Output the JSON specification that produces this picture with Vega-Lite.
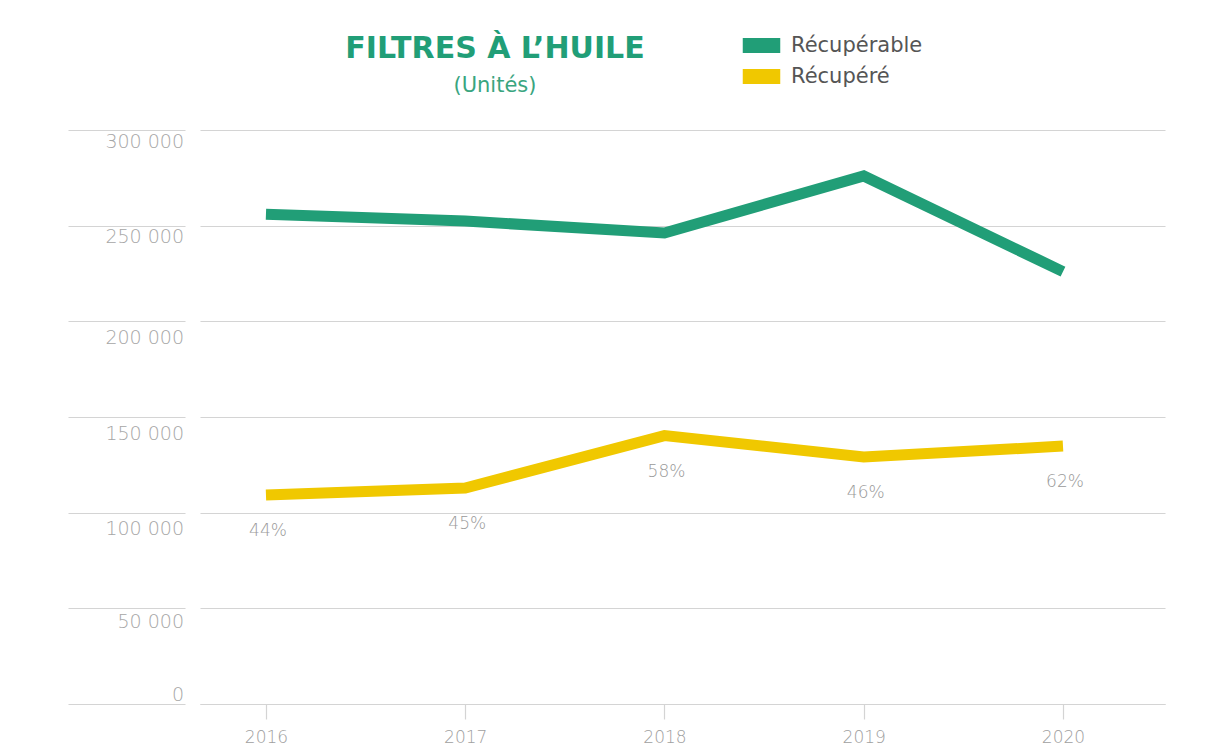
{
  "$schema": "https://vega.github.io/schema/vega-lite/v6.json",
  "width": 965,
  "height": 574,
  "autosize": {"type": "none"},
  "padding": {"left": 200, "top": 130, "right": 62, "bottom": 46},
  "background": "white",
  "config": {
    "view": {"stroke": null},
    "font": "DejaVu Sans"
  },
  "title": {
    "text": "FILTRES À L’HUILE",
    "subtitle": "(Unités)",
    "anchor": "middle",
    "frame": "group",
    "dx": -187.5,
    "dy": 61,
    "offset": 0,
    "font": "DejaVu Sans",
    "fontSize": 30,
    "fontWeight": "bold",
    "color": "#219e77",
    "subtitleFont": "DejaVu Sans",
    "subtitleFontSize": 21,
    "subtitleColor": "#3aa57f",
    "subtitlePadding": 11
  },
  "data": {
    "values": [
      {"annee": 2016, "serie": "Récupérable", "valeur": 256000, "taux": null},
      {"annee": 2017, "serie": "Récupérable", "valeur": 252400, "taux": null},
      {"annee": 2018, "serie": "Récupérable", "valeur": 246200, "taux": null},
      {"annee": 2019, "serie": "Récupérable", "valeur": 276000, "taux": null},
      {"annee": 2020, "serie": "Récupérable", "valeur": 226000, "taux": null},
      {"annee": 2016, "serie": "Récupéré", "valeur": 109200, "taux": "44%"},
      {"annee": 2017, "serie": "Récupéré", "valeur": 112900, "taux": "45%"},
      {"annee": 2018, "serie": "Récupéré", "valeur": 140300, "taux": "58%"},
      {"annee": 2019, "serie": "Récupéré", "valeur": 129100, "taux": "46%"},
      {"annee": 2020, "serie": "Récupéré", "valeur": 134800, "taux": "62%"}
    ]
  },
  "encoding": {
    "x": {
      "field": "annee",
      "type": "quantitative",
      "scale": {"domain": [2015.669, 2020.512], "nice": false, "zero": false},
      "axis": {
        "values": [2016, 2017, 2018, 2019, 2020],
        "format": "d",
        "title": null,
        "grid": false,
        "domain": true,
        "domainColor": "#d4d4d4",
        "domainWidth": 1.2,
        "ticks": true,
        "tickSize": 15,
        "tickColor": "#d4d4d4",
        "tickWidth": 1.2,
        "labelPadding": 10,
        "labelFont": "DejaVu Sans",
        "labelFontSize": 17,
        "labelFontWeight": 200,
        "labelColor": "#a0a0a0"
      }
    },
    "y": {
      "field": "valeur",
      "type": "quantitative",
      "scale": {"domain": [0, 300000], "nice": false},
      "axis": {
        "values": [0, 50000, 100000, 150000, 200000, 250000, 300000],
        "title": null,
        "domain": false,
        "grid": true,
        "gridColor": "#d4d4d4",
        "gridWidth": 1.2,
        "ticks": true,
        "tickSize": 117,
        "tickColor": "#d4d4d4",
        "tickWidth": 1.2,
        "offset": 15,
        "labelAlign": "right",
        "labelBaseline": "middle",
        "labelPadding": -115.5,
        "labelOffset": {"expr": "datum.value == 0 ? -9.5 : (datum.value >= 250000 ? 11 : (datum.value == 50000 ? 13.5 : 16))"},
        "labelFont": "DejaVu Sans",
        "labelFontSize": 19,
        "labelFontWeight": 200,
        "labelColor": "#a6a6a6",
        "labelExpr": "replace(format(datum.value, ','), ',', ' ')"
      }
    }
  },
  "layer": [
    {
      "mark": {"type": "line", "strokeWidth": 11, "strokeCap": "butt", "strokeJoin": "miter"},
      "encoding": {
        "color": {
          "field": "serie",
          "type": "nominal",
          "scale": {"domain": ["Récupérable", "Récupéré"], "range": ["#219e77", "#f0c800"]},
          "legend": {
            "title": null,
            "orient": "none",
            "legendX": 551,
            "legendY": -95,
            "symbolType": "M-2.5,-1H2.5V1H-2.5Z",
            "symbolSize": 225,
            "symbolStrokeWidth": 0,
            "rowPadding": 9,
            "labelOffset": 19,
            "labelFont": "DejaVu Sans",
            "labelFontSize": 21,
            "labelColor": "#555555",
            "encode": {
              "symbols": {
                "update": {
                  "fill": {"scale": "color", "field": "value"},
                  "stroke": {"value": "transparent"},
                  "strokeWidth": {"value": 0},
                  "opacity": {"value": 1}
                }
              }
            }
          }
        }
      }
    },
    {
      "transform": [{"filter": "datum.taux != null"}],
      "mark": {"type": "text", "dy": 36, "dx": 2, "fontSize": 17, "font": "DejaVu Sans", "fontWeight": 200, "color": "#9a9a9a"},
      "encoding": {"text": {"field": "taux"}}
    }
  ]
}
